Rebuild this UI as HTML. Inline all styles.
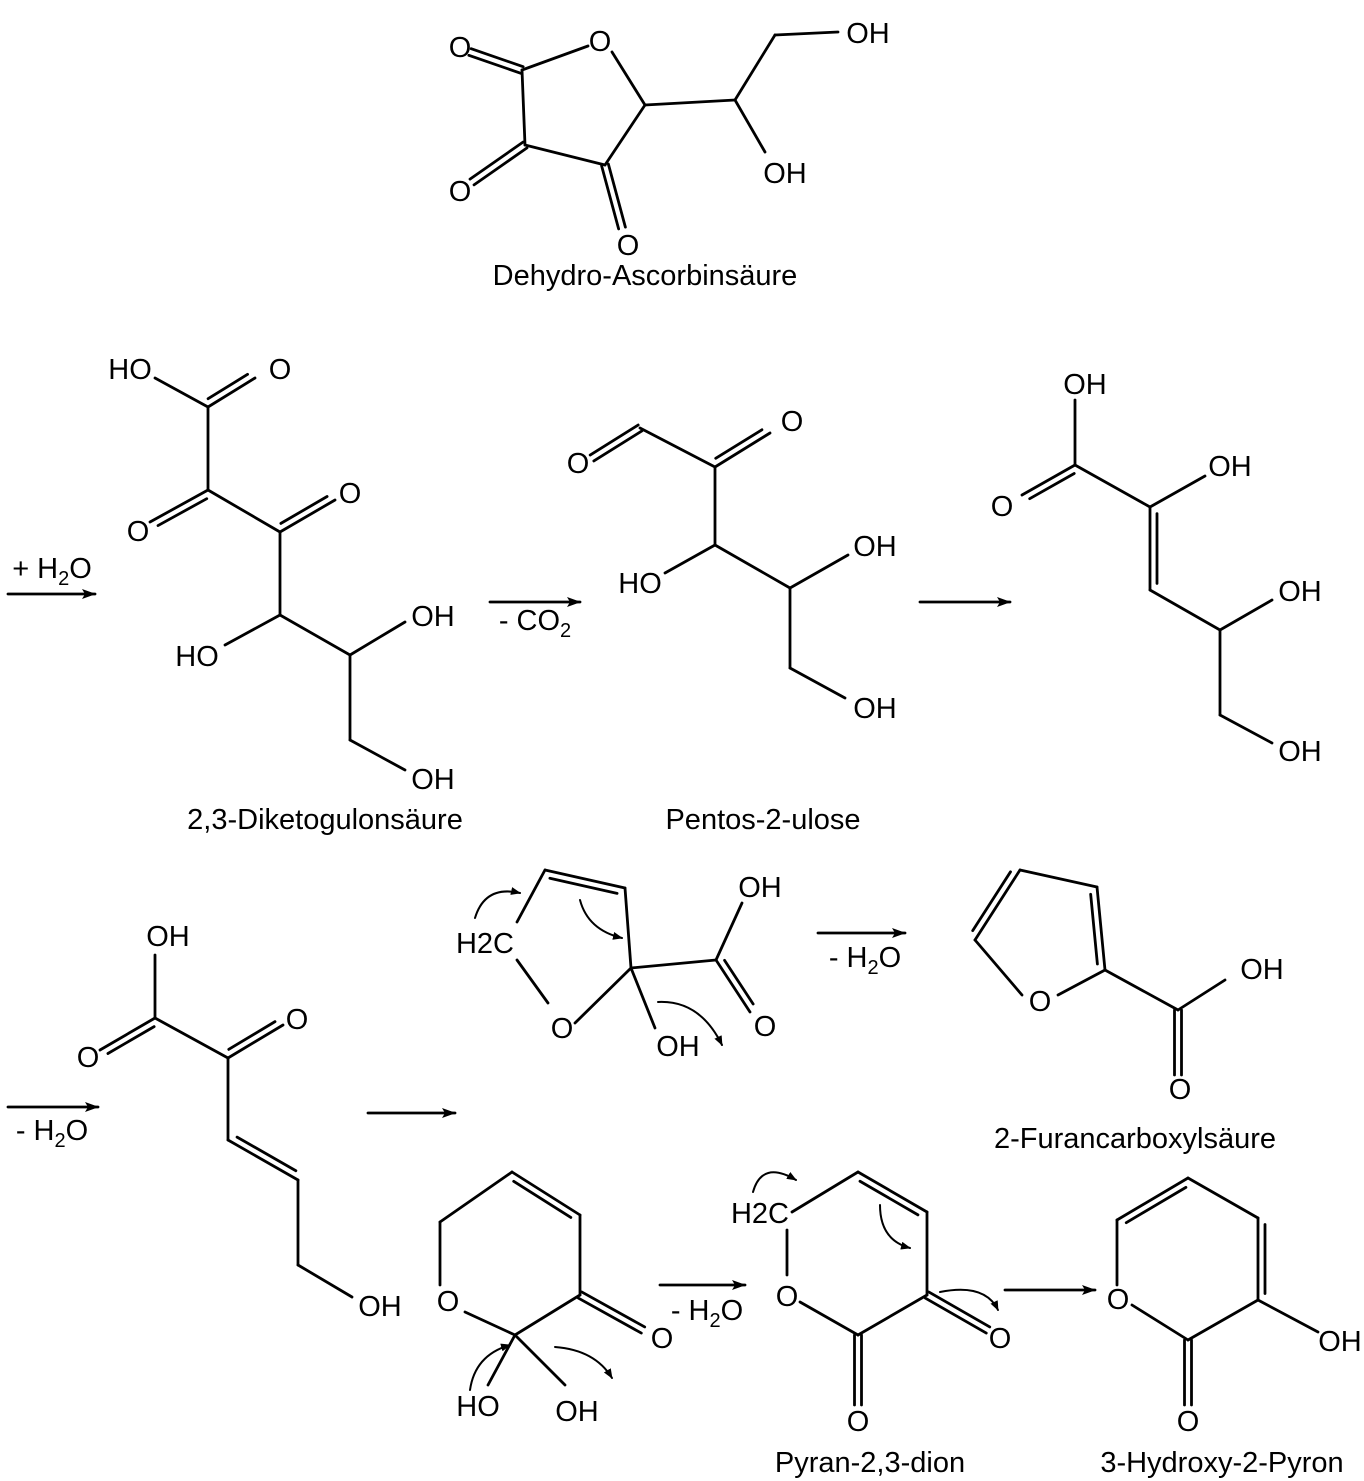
<!DOCTYPE html>
<html><head><meta charset="utf-8"><style>
html,body{margin:0;padding:0;background:#fff}
svg{display:block}
text{font-family:"Liberation Sans",Arial,sans-serif;font-size:29px;fill:#000}
</style></head><body>
<svg id="s" width="1364" height="1481" viewBox="0 0 1364 1481" xmlns="http://www.w3.org/2000/svg">
<defs><marker id="ah" markerWidth="10" markerHeight="8" refX="9" refY="4" orient="auto" markerUnits="userSpaceOnUse"><path d="M0,0 L10,4 L0,8 z" fill="#000"/></marker>
<marker id="ah2" markerWidth="14" markerHeight="10" refX="13" refY="5" orient="auto" markerUnits="userSpaceOnUse"><path d="M0,0 L14,5 L0,10 L3,5 z" fill="#000"/></marker></defs>
<g id="g" stroke="#000" stroke-width="2.8" fill="none" stroke-linecap="round"></g>
<g id="t"></g>
</svg>
<script>
var g=document.getElementById('g'),t=document.getElementById('t'),NS='http://www.w3.org/2000/svg';
function L(a,b,c,d){var e=document.createElementNS(NS,'line');e.setAttribute('x1',a);e.setAttribute('y1',b);e.setAttribute('x2',c);e.setAttribute('y2',d);g.appendChild(e);return e;}
function D(a,b,c,d,s){s=s||1;var dx=c-a,dy=d-b,l=Math.hypot(dx,dy),nx=-dy/l*7*s,ny=dx/l*7*s;L(a,b,c,d);L(a+nx+dx*0.08,b+ny+dy*0.08,c+nx-dx*0.08,d+ny-dy*0.08);}
function DC(a,b,c,d){var dx=c-a,dy=d-b,l=Math.hypot(dx,dy),nx=-dy/l*3.5,ny=dx/l*3.5;L(a+nx,b+ny,c+nx,d+ny);L(a-nx,b-ny,c-nx,d-ny);}
function T(x,y,s,big){var e=document.createElementNS(NS,'text');e.setAttribute('x',x);e.setAttribute('y',y);e.setAttribute('text-anchor','middle');if(big)e.setAttribute('font-size','31');e.innerHTML=s;t.appendChild(e);}
function A(a,b,c){var e=L(a,b,c,b);e.setAttribute('marker-end','url(#ah2)');}
function C(x1,y1,cx,cy,x2,y2){var p=document.createElementNS(NS,'path');p.setAttribute('d','M'+x1+','+y1+' Q'+cx+','+cy+' '+x2+','+y2);p.setAttribute('stroke-width','2');p.setAttribute('marker-end','url(#ah)');g.appendChild(p);}
var H2O='H<tspan font-size="20" dy="7">2</tspan><tspan dy="-7">O</tspan>';
// Dehydroascorbic acid
DC(470,52,522,70);L(522,70,588,46);L(612,52,645,105);L(645,105,605,165);L(605,165,525,145);L(525,145,522,70);
DC(525,145,472,182);DC(605,165,622,228);
L(645,105,735,100);L(735,100,765,152);L(735,100,775,35);L(775,35,838,32);
T(460,57,'O');T(600,51,'O');T(460,201,'O');T(628,255,'O');T(868,43,'OH');T(785,183,'OH');
T(645,285,'Dehydro-Ascorbinsäure',1);
// row2 arrows
A(8,594,95);T(52,578,'+ '+H2O);
A(490,602,580);T(535,630,'- CO<tspan font-size="20" dy="7">2</tspan>');
A(920,602,1010);
// Diketogulonic
L(155,378,208,407);D(208,407,255,378,-1);L(208,407,208,490);D(208,490,150,522,-1);L(208,490,280,532);D(280,532,335,500,-1);
L(280,532,280,615);L(280,615,225,645);L(280,615,350,655);L(350,655,405,622);L(350,655,350,740);L(350,740,405,770);
T(130,379,'HO');T(280,379,'O');T(138,541,'O');T(350,503,'O');T(197,666,'HO');T(433,626,'OH');T(433,789,'OH');
T(325,829,'2,3-Diketogulonsäure',1);
// Pentos-2-ulose
DC(592,458,640,428);L(640,428,715,467);D(715,467,770,433,-1);L(715,467,715,545);L(715,545,665,573);L(715,545,790,588);L(790,588,848,555);L(790,588,790,668);L(790,668,845,698);
T(578,473,'O');T(792,431,'O');T(640,593,'HO');T(875,556,'OH');T(875,718,'OH');
T(763,829,'Pentos-2-ulose',1);
// enediol acid
L(1075,400,1075,465);D(1075,465,1022,495,-1);L(1075,465,1150,507);L(1150,507,1205,476);D(1150,507,1150,590,-1);L(1150,590,1220,630);L(1220,630,1272,600);L(1220,630,1220,715);L(1220,715,1272,743);
T(1085,394,'OH');T(1002,516,'O');T(1230,476,'OH');T(1300,601,'OH');T(1300,761,'OH');
// row3 left
A(8,1107,98);T(52,1140,'- '+H2O);
A(368,1113,455);
L(155,955,155,1018);D(155,1018,100,1050,-1);L(155,1018,228,1058);D(228,1058,283,1025,-1);L(228,1058,228,1140);D(228,1140,298,1180,-1);L(298,1180,298,1265);L(298,1265,352,1297);
T(168,946,'OH');T(88,1067,'O');T(297,1029,'O');T(380,1316,'OH');
// furanose intermediate
L(517,922,545,870);D(545,870,625,888,1);L(625,888,631,968);L(575,1023,631,968);L(517,960,548,1003);
L(631,968,716,960);L(716,960,742,903);D(716,960,750,1012,-1);L(631,968,655,1028);
T(485,953,'H2C');T(562,1038,'O');T(678,1056,'OH');T(760,897,'OH');T(765,1036,'O');
C(475,918,485,885,520,893);C(580,900,588,930,622,938);C(658,1002,700,1000,722,1045);
A(818,933,905);T(865,967,'- '+H2O);
// furoic acid
D(975,940,1020,870,-1);L(1020,870,1097,887);D(1097,887,1105,970,1);L(1105,970,1058,995);L(1022,995,975,940);
L(1105,970,1178,1010);L(1178,1010,1225,980);DC(1178,1010,1178,1075);
T(1040,1011,'O');T(1262,979,'OH');T(1180,1099,'O');
T(1135,1148,'2-Furancarboxylsäure',1);
// pyranose
L(440,1222,440,1285);L(440,1222,512,1172);D(512,1172,580,1215,1);L(580,1215,580,1295);DC(580,1295,643,1330);L(580,1295,515,1335);L(515,1335,465,1312);L(515,1335,488,1385);L(515,1335,565,1385);
T(448,1311,'O');T(662,1348,'O');T(478,1416,'HO');T(577,1421,'OH');
C(470,1390,475,1355,510,1345);C(555,1347,595,1350,612,1378);
A(660,1285,745);T(707,1320,'- '+H2O);
// pyran-2,3-dion
L(792,1212,858,1172);D(858,1172,927,1212,1);L(927,1212,927,1295);DC(927,1295,988,1330);L(927,1295,858,1335);DC(858,1335,858,1405);L(858,1335,800,1302);L(787,1230,787,1275);
T(760,1223,'H2C');T(787,1306,'O');T(1000,1348,'O');T(858,1431,'O');
C(753,1192,762,1160,796,1180);C(880,1205,880,1240,910,1248);C(940,1292,985,1283,998,1310);
A(1005,1290,1095);
T(870,1472,'Pyran-2,3-dion',1);
// 3-hydroxy-2-pyron
L(1117,1220,1117,1285);D(1117,1220,1188,1178,1);L(1188,1178,1258,1218);D(1258,1218,1258,1300,-1);L(1258,1300,1318,1332);L(1258,1300,1188,1340);DC(1188,1340,1188,1405);L(1188,1340,1132,1305);
T(1118,1309,'O');T(1340,1351,'OH');T(1188,1431,'O');
T(1222,1472,'3-Hydroxy-2-Pyron',1);
</script>
</body></html>
